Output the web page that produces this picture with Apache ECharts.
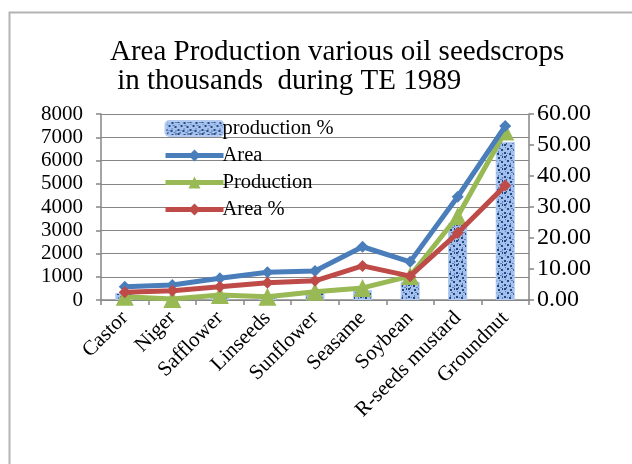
<!DOCTYPE html>
<html>
<head>
<meta charset="utf-8">
<script src="https://cdn.jsdelivr.net/npm/echarts@6/dist/echarts.min.js"></script>
<style>
html,body{margin:0;padding:0;background:#fff;}
#chart{width:632px;height:464px;}
</style>
</head>
<body>
<div id="chart"></div>
<script>
// ---- data ----
var categories = ['Castor','Niger','Safflower','Linseeds','Sunflower','Seasame','Soybean','R-seeds mustard','Groundnut'];
var areaValues = [570, 645, 935, 1190, 1250, 2290, 1640, 4440, 7480];
var productionValues = [140, 40, 215, 140, 355, 520, 1030, 3600, 7250];
var areaPctValues = [2.5, 3.0, 4.3, 5.6, 6.2, 11.0, 7.7, 21.6, 36.9];
var productionPctValues = [2.3, 0.6, 1.5, 1.2, 2.5, 3.2, 5.9, 24.8, 51.0];
var leftTicks = [0, 8000, 1000];
var rightTicks = [0, 60, 10];

// ---- texture for bars ----
function makePattern(){
  var c = document.createElement('canvas');
  c.width = 12; c.height = 12;
  var g = c.getContext('2d');
  g.fillStyle = '#a4c0ec'; g.fillRect(0,0,12,12);
  g.fillStyle = '#25467f';
  [[0,0,2,2],[6,1,2,2],[3,4,2,2],[9,5,2,2],[0,8,2,2],[5,9,2,2],[10,0,1,2],[2,11,1,1]].forEach(function(s){ g.fillRect(s[0],s[1],s[2],s[3]); });
  g.fillStyle = '#5a7fc0';
  [[2,0,1,1],[1,3,1,1],[7,4,2,1],[6,7,1,2],[3,9,1,1],[10,9,1,2],[8,11,2,1]].forEach(function(s){ g.fillRect(s[0],s[1],s[2],s[3]); });
  return c;
}

var font = 'Liberation Serif';
var gray = '#868686';
var chart = echarts.init(document.getElementById('chart'));
chart.setOption({
  animation: false,
  backgroundColor: '#fff',
  graphic: [{
    type: 'rect', left: 7, top: 10, z: -1,
    shape: {x: 0, y: 0, width: 660, height: 480},
    style: {fill: 'none', stroke: '#b4b4b4', lineWidth: 2}
  }],
  title: {
    text: 'Area Production various oil seedscrops\n in thousands  during TE 1989',
    left: 110, top: 38, padding: 0,
    textStyle: {fontFamily: font, fontSize: 29, fontWeight: 'normal', color: '#000', lineHeight: 29}
  },
  legend: {
    left: 163, top: 118, orient: 'vertical', itemGap: 6,
    itemWidth: 58, itemHeight: 15, padding: 0,
    lineStyle: {width: 5},
    textStyle: {fontFamily: font, fontSize: 20.5, color: '#000', padding: [0,0,0,-6]},
    data: ['production %', 'Area', 'Production', 'Area %']
  },
  grid: {left: 101, right: 103, top: 114, bottom: 164},
  xAxis: {
    type: 'category', data: categories, boundaryGap: true,
    axisLine: {lineStyle: {color: gray, width: 1.5}},
    axisTick: {show: true, length: 5, lineStyle: {color: gray, width: 1.5}},
    axisLabel: {rotate: 45, margin: 15, interval: 0, fontFamily: font, fontSize: 21, color: '#000'}
  },
  yAxis: [{
    type: 'value', min: leftTicks[0], max: leftTicks[1], interval: leftTicks[2], position: 'left',
    axisLine: {show: true, lineStyle: {color: gray, width: 1.5}},
    axisTick: {show: true, length: 5, lineStyle: {color: gray, width: 1.5}},
    splitLine: {show: true, lineStyle: {color: gray, width: 1}},
    axisLabel: {margin: 18, fontFamily: font, fontSize: 21, color: '#000', formatter: function(v){return String(v);}}
  }, {
    type: 'value', min: rightTicks[0], max: rightTicks[1], interval: rightTicks[2], position: 'right',
    axisLine: {show: true, lineStyle: {color: gray, width: 1.5}},
    axisTick: {show: true, length: 5, lineStyle: {color: gray, width: 1.5}},
    splitLine: {show: false},
    axisLabel: {margin: 8, fontFamily: font, fontSize: 24, color: '#000', formatter: function(v){return v.toFixed(2);}}
  }],
  series: [{
    name: 'production %', type: 'bar', yAxisIndex: 1, data: productionPctValues,
    barWidth: '40%', z: 1,
    itemStyle: {color: {image: makePattern(), repeat: 'repeat'}, borderColor: '#b3cbf0', borderWidth: 1}
  }, {
    name: 'Area', type: 'line', yAxisIndex: 0, data: areaValues, z: 4,
    symbol: 'diamond', symbolSize: 12, color: '#4a7ebb',
    lineStyle: {width: 5, color: '#4a7ebb'}, itemStyle: {color: '#4a7ebb'}
  }, {
    name: 'Production', type: 'line', yAxisIndex: 0, data: productionValues, z: 3,
    symbol: 'triangle', symbolSize: 18, color: '#98b954',
    lineStyle: {width: 5, color: '#98b954'}, itemStyle: {color: '#98b954'}
  }, {
    name: 'Area %', type: 'line', yAxisIndex: 1, data: areaPctValues, z: 5,
    symbol: 'diamond', symbolSize: 12, color: '#be4b48',
    lineStyle: {width: 5, color: '#be4b48'}, itemStyle: {color: '#be4b48'}
  }]
});
</script>
</body>
</html>
